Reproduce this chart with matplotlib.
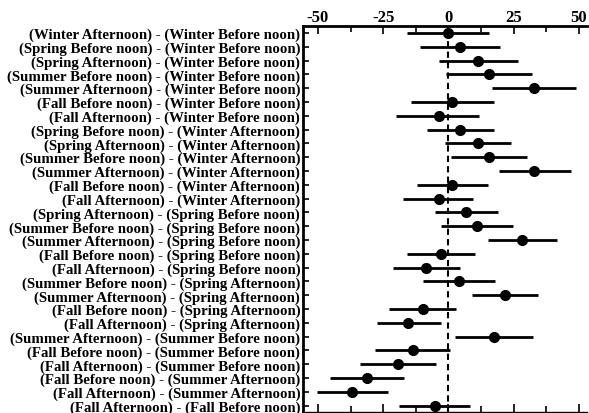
import numpy as np
import matplotlib.pyplot as plt

# Comparaciones de a pares (diferencia de medias e intervalo de confianza)
comparaciones = [
    '(Winter Afternoon) - (Winter Before noon)',
    '(Spring Before noon) - (Winter Before noon)',
    '(Spring Afternoon) - (Winter Before noon)',
    '(Summer Before noon) - (Winter Before noon)',
    '(Summer Afternoon) - (Winter Before noon)',
    '(Fall Before noon) - (Winter Before noon)',
    '(Fall Afternoon) - (Winter Before noon)',
    '(Spring Before noon) - (Winter Afternoon)',
    '(Spring Afternoon) - (Winter Afternoon)',
    '(Summer Before noon) - (Winter Afternoon)',
    '(Summer Afternoon) - (Winter Afternoon)',
    '(Fall Before noon) - (Winter Afternoon)',
    '(Fall Afternoon) - (Winter Afternoon)',
    '(Spring Afternoon) - (Spring Before noon)',
    '(Summer Before noon) - (Spring Before noon)',
    '(Summer Afternoon) - (Spring Before noon)',
    '(Fall Before noon) - (Spring Before noon)',
    '(Fall Afternoon) - (Spring Before noon)',
    '(Summer Before noon) - (Spring Afternoon)',
    '(Summer Afternoon) - (Spring Afternoon)',
    '(Fall Before noon) - (Spring Afternoon)',
    '(Fall Afternoon) - (Spring Afternoon)',
    '(Summer Afternoon) - (Summer Before noon)',
    '(Fall Before noon) - (Summer Before noon)',
    '(Fall Afternoon) - (Summer Before noon)',
    '(Fall Before noon) - (Summer Afternoon)',
    '(Fall Afternoon) - (Summer Afternoon)',
    '(Fall Afternoon) - (Fall Before noon)',
]

diferencia = [0.0, 4.6, 11.4, 15.5, 32.7, 1.4, -3.8, 4.6, 11.4, 15.5, 32.9, 1.5, -3.8, 6.9,
              11.0, 28.2, -2.7, -8.5, 4.2, 21.7, -9.6, -15.4, 17.4, -13.7, -19.5, -31.1,
              -36.8, -5.3]
limite_inf = [-15.9, -10.8, -3.8, -0.9, 16.6, -14.2, -19.9, -8.4, -1.3, 1.1, 19.2, -11.9, -17.3,
              -5.1, -2.7, 15.1, -15.7, -21.1, -9.6, 8.9, -22.6, -27.5, 2.4, -28.2, -33.8,
              -45.3, -50.5, -18.9]
limite_sup = [15.7, 19.8, 26.5, 32.1, 49.0, 17.4, 11.8, 17.5, 24.0, 30.1, 47.0, 15.2, 9.5,
              18.9, 24.9, 41.6, 10.2, 4.4, 18.0, 34.4, 3.0, -2.9, 32.4, 0.4, -4.9, -17.1,
              -23.1, 8.1]

ticks_x = [-50, -25, 0, 25, 50]

plt.rcParams['font.family'] = ['Liberation Serif', 'DejaVu Serif']
plt.rcParams['font.weight'] = 'bold'

fig = plt.figure(figsize=(5.89, 4.14), dpi=100)
ax = fig.add_axes([0.5144, 0.0024, 0.482, 0.9324])

y = np.arange(len(comparaciones))
dif = np.array(diferencia)
err = [dif - np.array(limite_inf), np.array(limite_sup) - dif]

ax.axvline(0, color='black', linestyle='--', linewidth=1.5, dashes=(3, 2))
ax.errorbar(dif, y, xerr=err, fmt='o', color='black', ecolor='black',
            elinewidth=2, capsize=0, markersize=7)

ax.set_xlim(-55.7, 53)
ax.set_ylim(27.46, -0.5)

ax.set_yticks(y)
ax.set_yticklabels(comparaciones, fontsize=10.7, fontweight='bold')
ax.set_xticks(ticks_x)
ax.set_xticks([-37.5, -12.5, 12.5, 37.5], minor=True)
ax.set_xticklabels([str(t) for t in ticks_x], fontsize=12, fontweight='bold')

ax.xaxis.set_ticks_position('both')
ax.xaxis.set_label_position('top')
ax.tick_params(axis='x', which='both', direction='in', labeltop=True, labelbottom=False,
               width=1.2)
ax.tick_params(axis='x', which='major', length=6, pad=1)
ax.tick_params(axis='x', which='minor', length=4)
ax.tick_params(axis='y', direction='in', length=4, width=1.2, pad=2)

ax.spines['right'].set_visible(False)
ax.spines['left'].set_linewidth(2)
ax.spines['top'].set_linewidth(2)
ax.spines['bottom'].set_linewidth(1)

fig.savefig('out.png', dpi=100)
